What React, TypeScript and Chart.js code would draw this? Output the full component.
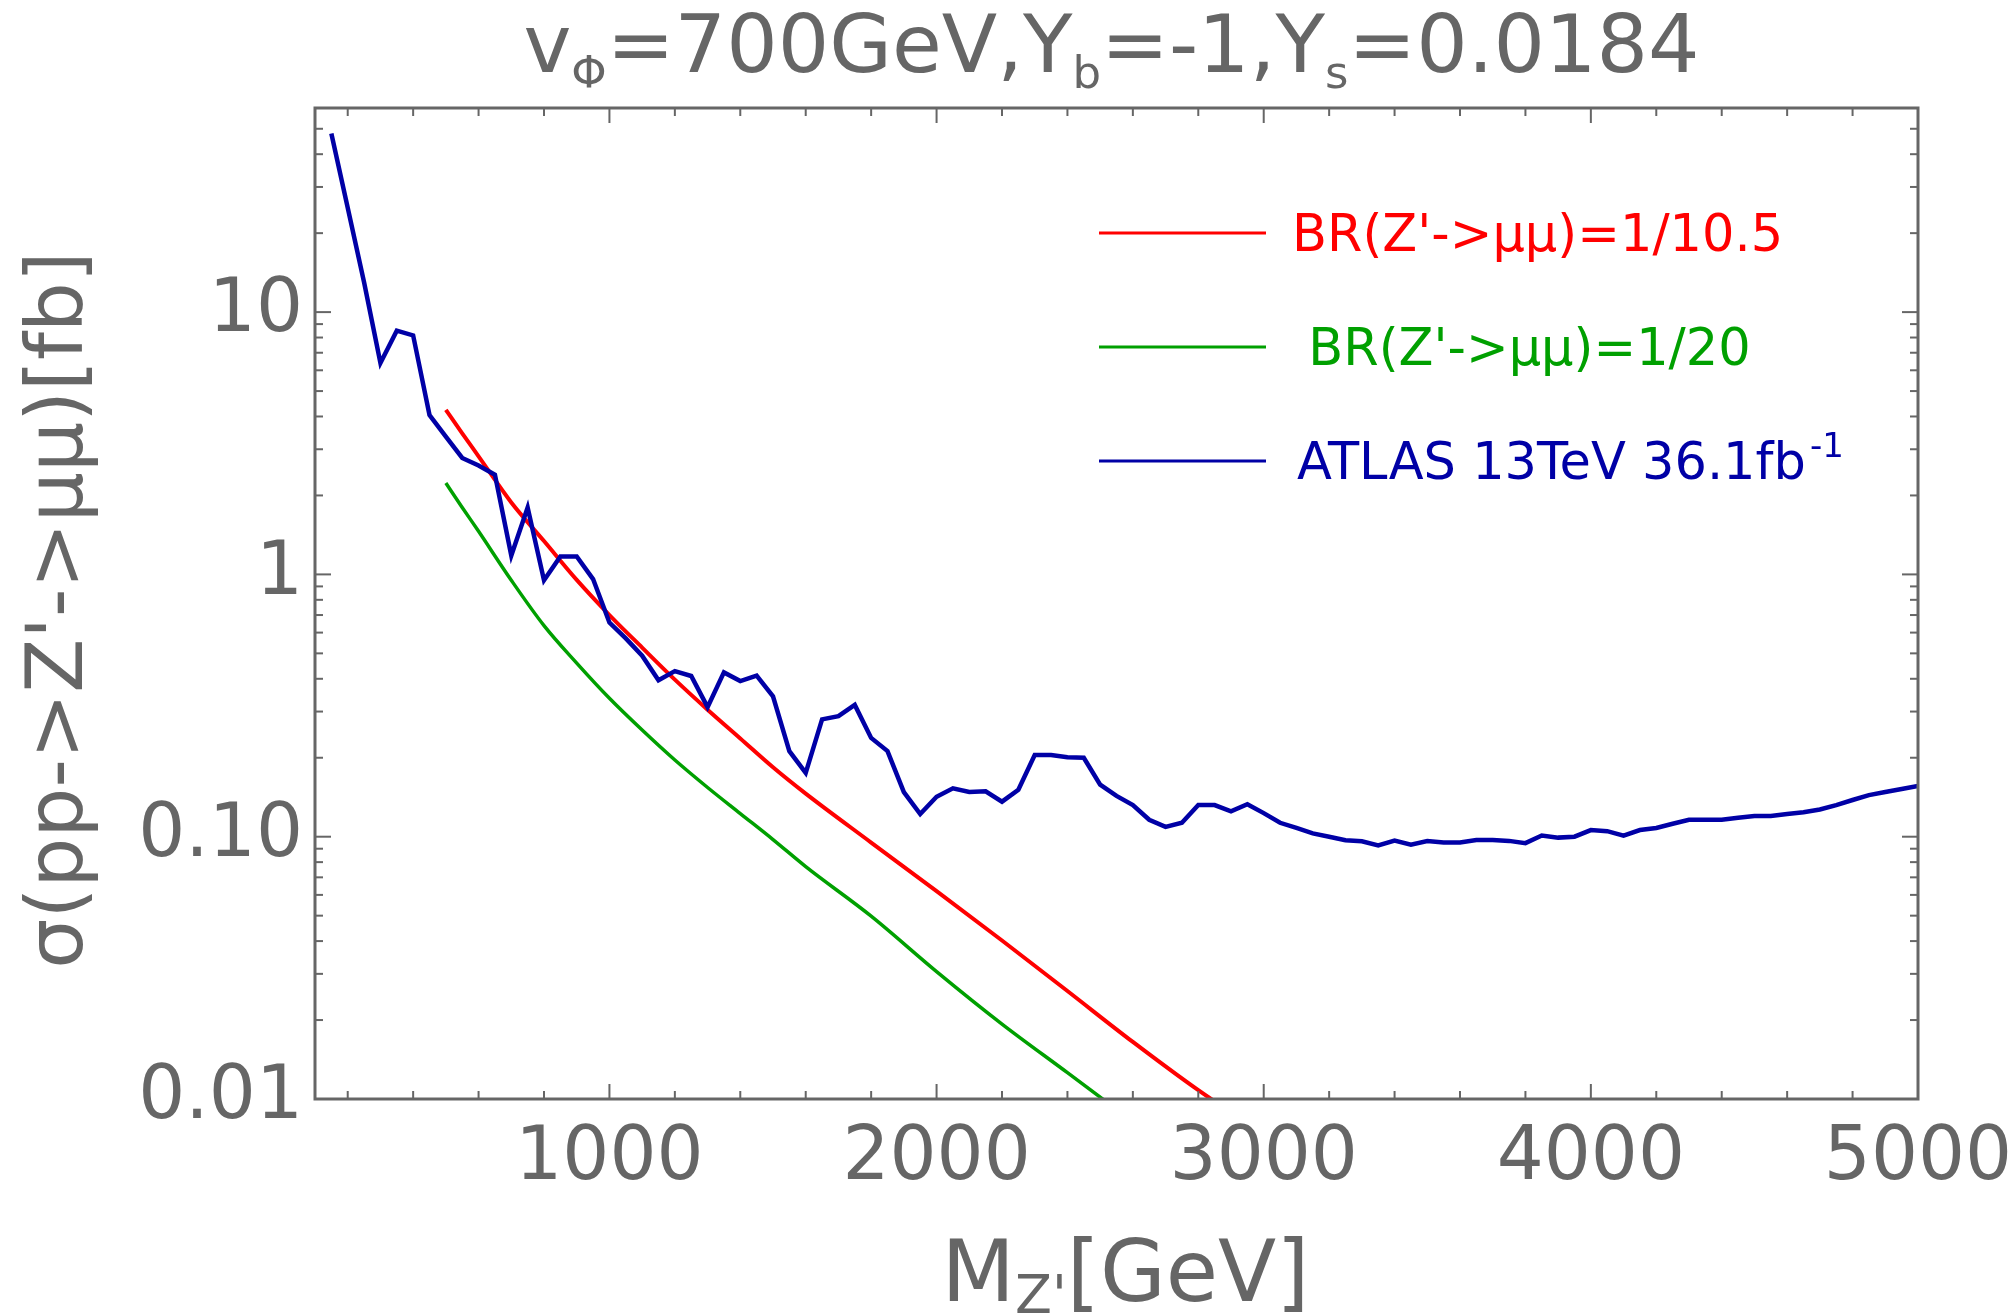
import React, { useEffect, useRef } from 'react';
import { Chart, registerables } from 'chart.js';

Chart.register(...registerables);

// ---------------- data ----------------
const atlasMass = [
  150, 200, 250, 300, 350, 400, 450, 500, 550, 600, 650, 700, 750, 800, 850, 900, 950,
  1000, 1050, 1100, 1150, 1200, 1250, 1300, 1350, 1400, 1450, 1500, 1550, 1600, 1650, 1700,
  1750, 1800, 1850, 1900, 1950, 2000, 2050, 2100, 2150, 2200, 2250, 2300, 2350, 2400, 2450,
  2500, 2550, 2600, 2650, 2700, 2750, 2800, 2850, 2900, 2950, 3000, 3050, 3100, 3150, 3200,
  3250, 3300, 3350, 3400, 3450, 3500, 3550, 3600, 3650, 3700, 3750, 3800, 3850, 3900, 3950,
  4000, 4050, 4100, 4150, 4200, 4250, 4300, 4350, 4400, 4450, 4500, 4550, 4600, 4650, 4700,
  4750, 4800, 4850, 4900, 4950, 5000,
];
const atlasXsec = [
  48, 25, 13, 6.4, 8.5, 8.15, 4.05, 3.35, 2.78, 2.6, 2.4, 1.18, 1.8, 0.95, 1.17, 1.17, 0.96,
  0.655, 0.57, 0.49, 0.395, 0.428, 0.41, 0.312, 0.423, 0.392, 0.411, 0.343, 0.212, 0.175, 0.28, 0.288,
  0.318, 0.238, 0.212, 0.148, 0.122, 0.142, 0.153, 0.148, 0.149, 0.136, 0.151, 0.205, 0.205, 0.201, 0.2,
  0.158, 0.143, 0.132, 0.116, 0.109, 0.113, 0.132, 0.132, 0.125, 0.133, 0.123, 0.113, 0.108, 0.103, 0.1,
  0.097, 0.096, 0.0927, 0.0966, 0.0933, 0.0963, 0.0951, 0.0951, 0.0971, 0.0971, 0.0964, 0.0945, 0.101, 0.0992, 0.1,
  0.106, 0.105, 0.101, 0.106, 0.108, 0.112, 0.116, 0.116, 0.116, 0.118, 0.12, 0.12, 0.122, 0.124, 0.127,
  0.132, 0.138, 0.144, 0.148, 0.152, 0.156,
];

const redMass = [500, 550, 600, 700, 800, 900, 1000, 1100, 1200, 1300, 1400, 1500, 1600, 1800, 2000, 2200, 2400, 2600, 2800, 2900];
const redXsec = [4.24, 3.45, 2.82, 1.88, 1.34, 0.953, 0.70, 0.526, 0.397, 0.305, 0.237, 0.184, 0.146, 0.095, 0.062, 0.0402, 0.0258, 0.0165, 0.0108, 0.0089];

const greenMass = [500, 550, 600, 700, 800, 900, 1000, 1100, 1200, 1300, 1400, 1500, 1600, 1800, 2000, 2200, 2400, 2600];
const greenXsec = [2.23, 1.8, 1.46, 0.95, 0.638, 0.459, 0.337, 0.255, 0.196, 0.154, 0.1225, 0.0975, 0.0769, 0.0498, 0.0306, 0.0193, 0.0126, 0.0082];

const xTickValues = [1000, 2000, 3000, 4000, 5000];
const yTickValues = [0.01, 0.1, 1, 10];
const yTickLabels = ['0.01', '0.10', '1', '10'];

const legendLabels = ["BR(Z'->\u03bc\u03bc)=1/10.5", " BR(Z'->\u03bc\u03bc)=1/20", 'ATLAS 13TeV 36.1fb'];
const legendSup = ['', '', '-1'];

// ---------------- style ----------------
const W = 2015;
const H = 1315;
const AREA = { left: 315, top: 108, right: 1918, bottom: 1099 };
const GRAY = '#666666';
const RED = '#ff0000';
const GREEN = '#00a000';
const BLUE = '#0000a6';
const FONT = "'DejaVu Sans', 'Noto Sans', sans-serif";

type Seg = { t: string; s: number; dy?: number };

function drawRich(ctx: CanvasRenderingContext2D, segs: Seg[], x: number, y: number, align: 'left' | 'center') {
  let total = 0;
  const widths = segs.map((sg) => {
    ctx.font = `${sg.s}px ${FONT}`;
    const w = ctx.measureText(sg.t).width;
    total += w;
    return w;
  });
  let cx = align === 'center' ? x - total / 2 : x;
  ctx.textAlign = 'left';
  ctx.textBaseline = 'alphabetic';
  segs.forEach((sg, i) => {
    ctx.font = `${sg.s}px ${FONT}`;
    ctx.fillText(sg.t, cx, y + (sg.dy || 0));
    cx += widths[i];
  });
}

const decorPlugin = {
  id: 'decor',
  afterDraw(chart: any) {
    const { ctx, chartArea: ca } = chart;
    const xs = chart.scales.x;
    const ys = chart.scales.y;
    ctx.save();

    // frame
    ctx.strokeStyle = GRAY;
    ctx.lineWidth = 3;
    ctx.strokeRect(ca.left, ca.top, ca.right - ca.left, ca.bottom - ca.top);

    // inward ticks
    ctx.lineWidth = 2;
    const seg = (x1: number, y1: number, x2: number, y2: number) => {
      ctx.beginPath();
      ctx.moveTo(x1, y1);
      ctx.lineTo(x2, y2);
      ctx.stroke();
    };
    for (let v = 200; v <= 4800; v += 200) {
      const px = xs.getPixelForValue(v);
      const len = v % 1000 === 0 ? 15 : 8;
      seg(px, ca.bottom, px, ca.bottom - len);
      seg(px, ca.top, px, ca.top + len);
    }
    for (let k = -2; k <= 1; k++) {
      for (let m = 1; m <= 9; m++) {
        const v = m * Math.pow(10, k);
        if (v > ys.max) break;
        const py = ys.getPixelForValue(v);
        const len = m === 1 ? 16 : 8;
        seg(ca.left, py, ca.left + len, py);
        seg(ca.right, py, ca.right - len, py);
      }
    }

    // title
    ctx.fillStyle = GRAY;
    drawRich(
      ctx,
      [
        { t: 'v', s: 81 },
        { t: '\u03a6', s: 45, dy: 16 },
        { t: '=700GeV,Y', s: 81 },
        { t: 'b', s: 45, dy: 16 },
        { t: '=-1,Y', s: 81 },
        { t: 's', s: 45, dy: 16 },
        { t: '=0.0184', s: 81 },
      ],
      (ca.left + ca.right) / 2 - 5,
      72,
      'center'
    );

    // x axis title
    drawRich(
      ctx,
      [
        { t: 'M', s: 85 },
        { t: "Z'", s: 54, dy: 12 },
        { t: '[GeV]', s: 85 },
      ],
      (ca.left + ca.right) / 2 + 9,
      1301,
      'center'
    );

    // y axis title
    ctx.save();
    ctx.translate(82, 610);
    ctx.rotate(-Math.PI / 2);
    ctx.font = `79px ${FONT}`;
    ctx.textAlign = 'center';
    ctx.textBaseline = 'alphabetic';
    ctx.fillText("\u03c3(pp->Z'->\u03bc\u03bc)[fb]", 0, 0);
    ctx.restore();

    // legend
    const colors = [RED, GREEN, BLUE];
    const rowY = [233, 347, 461];
    const textX = [1292, 1292, 1297];
    legendLabels.forEach((lab, i) => {
      const yy = rowY[i];
      ctx.strokeStyle = colors[i];
      ctx.lineWidth = 3;
      seg(1099, yy, 1266, yy);
      ctx.fillStyle = colors[i];
      ctx.font = `51px ${FONT}`;
      ctx.textAlign = 'left';
      ctx.textBaseline = 'alphabetic';
      ctx.fillText(lab, textX[i], yy + 18);
      if (legendSup[i]) {
        const w = ctx.measureText(lab).width;
        ctx.font = `34px ${FONT}`;
        ctx.fillText(legendSup[i], textX[i] + w + 4, yy + 18 - 22);
      }
    });

    ctx.restore();
  },
};

export default function App() {
  const ref = useRef<HTMLCanvasElement | null>(null);

  useEffect(() => {
    const canvas = ref.current;
    if (!canvas) return;
    const toXY = (xs: number[], ys: number[]) => xs.map((m, i) => ({ x: m, y: ys[i] }));
    const chart = new Chart(canvas, {
      type: 'line',
      data: {
        datasets: [
          {
            label: legendLabels[2],
            data: toXY(atlasMass, atlasXsec),
            borderColor: BLUE,
            borderWidth: 4.5,
            pointRadius: 0,
            tension: 0,
            fill: false,
          },
          {
            label: legendLabels[0],
            data: toXY(redMass, redXsec),
            borderColor: RED,
            borderWidth: 4,
            pointRadius: 0,
            tension: 0.3,
            cubicInterpolationMode: 'monotone',
            fill: false,
          },
          {
            label: legendLabels[1],
            data: toXY(greenMass, greenXsec),
            borderColor: GREEN,
            borderWidth: 3.5,
            pointRadius: 0,
            tension: 0.3,
            cubicInterpolationMode: 'monotone',
            fill: false,
          },
        ],
      },
      options: {
        responsive: false,
        animation: false,
        devicePixelRatio: 1,
        layout: { padding: { top: AREA.top, right: W - AREA.right, left: 0, bottom: 0 } },
        plugins: {
          legend: { display: false },
          title: { display: false },
          tooltip: { enabled: false },
        },
        scales: {
          x: {
            type: 'linear',
            min: 100,
            max: 5000,
            grid: { display: false, drawTicks: false },
            border: { display: false },
            ticks: {
              font: { family: FONT, size: 74 },
              color: GRAY,
              padding: 16,
              autoSkip: false,
              maxRotation: 0,
              callback: (v: any) => String(v),
            },
            afterBuildTicks: (s: any) => {
              s.ticks = xTickValues.map((v) => ({ value: v }));
            },
            afterFit: (s: any) => {
              s.height = H - AREA.bottom;
              s.paddingLeft = 0;
              s.paddingRight = 0;
            },
          },
          y: {
            type: 'logarithmic',
            min: 0.01,
            max: 60,
            grid: { display: false, drawTicks: false },
            border: { display: false },
            ticks: {
              font: { family: FONT, size: 74 },
              color: GRAY,
              padding: 12,
              autoSkip: false,
              callback: (v: any) => {
                const idx = yTickValues.findIndex((t) => Math.abs(Math.log10(t) - Math.log10(Number(v))) < 1e-6);
                return idx >= 0 ? yTickLabels[idx] : '';
              },
            },
            afterBuildTicks: (s: any) => {
              s.ticks = yTickValues.map((v) => ({ value: v }));
            },
            afterFit: (s: any) => {
              s.width = AREA.left;
              s.paddingTop = 0;
              s.paddingBottom = 0;
            },
          },
        },
      } as any,
      plugins: [decorPlugin],
    });
    return () => chart.destroy();
  }, []);

  return (
    <div style={{ position: 'absolute', left: 0, top: 0, width: W, height: H, background: '#ffffff' }}>
      <canvas ref={ref} width={W} height={H} style={{ width: W, height: H, display: 'block' }} />
    </div>
  );
}
